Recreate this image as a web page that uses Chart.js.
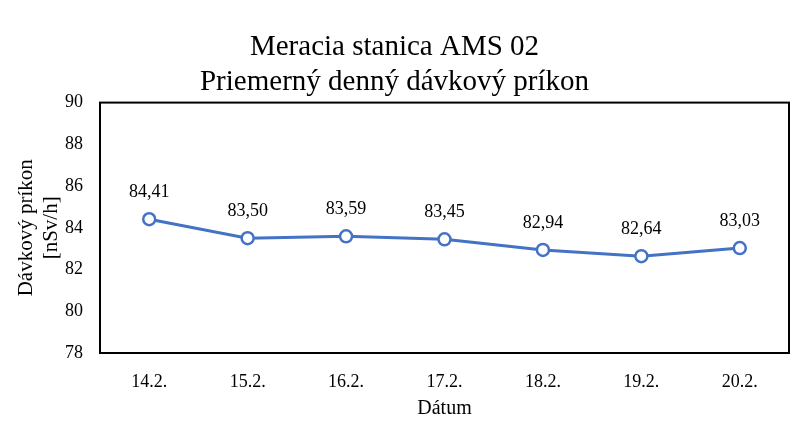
<!DOCTYPE html>
<html>
<head>
<meta charset="utf-8">
<script src="https://cdn.jsdelivr.net/npm/chart.js@4/dist/chart.umd.min.js"></script>
<style>
  html, body { margin: 0; padding: 0; background: #fff; }
  #wrap { width: 800px; height: 421px; }
</style>
</head>
<body>
<div id="wrap"><canvas id="lineChart" width="800" height="421"></canvas></div>
<script>
const categories = ['14.2.', '15.2.', '16.2.', '17.2.', '18.2.', '19.2.', '20.2.'];
const doseRate = [84.41, 83.50, 83.59, 83.45, 82.94, 82.64, 83.03];
const titleLines = ['Meracia stanica AMS 02', 'Priemerný denný dávkový príkon'];
const yTitle = ['Dávkový príkon', '[nSv/h]'];
const xTitle = 'Dátum';

const serif = "'Liberation Serif', 'Times New Roman', serif";

// frame around plot area + value labels above points
const framePlugin = {
    id: 'frame',
    afterDatasetsDraw(chart) {
        const { ctx, chartArea } = chart;
        ctx.save();
        ctx.strokeStyle = '#000';
        ctx.lineWidth = 2;
        ctx.strokeRect(chartArea.left, chartArea.top, chartArea.right - chartArea.left, chartArea.bottom - chartArea.top);
        ctx.restore();
    },
    afterDraw(chart) {
        const { ctx } = chart;
        const meta = chart.getDatasetMeta(0);
        ctx.save();
        ctx.fillStyle = '#000';
        ctx.font = '18px ' + serif;
        ctx.textAlign = 'center';
        ctx.textBaseline = 'bottom';
        meta.data.forEach((pt, i) => {
            ctx.fillText(doseRate[i].toFixed(2).replace('.', ','), pt.x, pt.y - 18);
        });
        ctx.restore();
    }
};

new Chart(document.getElementById('lineChart').getContext('2d'), {
    type: 'line',
    data: {
        labels: categories,
        datasets: [{
            data: doseRate,
            borderColor: '#4472C4',
            borderWidth: 3,
            pointRadius: 6,
            pointBorderWidth: 2.5,
            pointBackgroundColor: '#fff',
            pointBorderColor: '#4472C4',
            tension: 0
        }]
    },
    options: {
        responsive: false,
        animation: false,
        layout: { padding: { left: 0, right: 11, top: 0, bottom: 0 } },
        plugins: {
            legend: { display: false },
            tooltip: { enabled: false },
            title: {
                display: true,
                text: titleLines,
                color: '#000',
                font: { family: serif, size: 29, weight: 'normal', lineHeight: 1.2 },
                padding: { top: 30, bottom: 3 }
            }
        },
        scales: {
            x: {
                offset: true,
                grid: { display: false },
                border: { display: false },
                ticks: { color: '#000', font: { family: serif, size: 18 }, padding: 10 },
                title: { display: true, text: xTitle, color: '#000', font: { family: serif, size: 20 }, padding: { top: 2, bottom: 0 } },
                afterFit(scale) { scale.height = 68; }
            },
            y: {
                min: 78,
                max: 90,
                grid: { display: false },
                border: { display: false },
                ticks: { stepSize: 2, color: '#000', font: { family: serif, size: 18 }, padding: 9 },
                title: { display: true, text: yTitle, color: '#000', font: { family: serif, size: 21, lineHeight: 1.2 }, padding: { top: 14, bottom: 4 } },
                afterFit(scale) { scale.width = 100; }
            }
        }
    },
    plugins: [framePlugin]
});
</script>
</body>
</html>
